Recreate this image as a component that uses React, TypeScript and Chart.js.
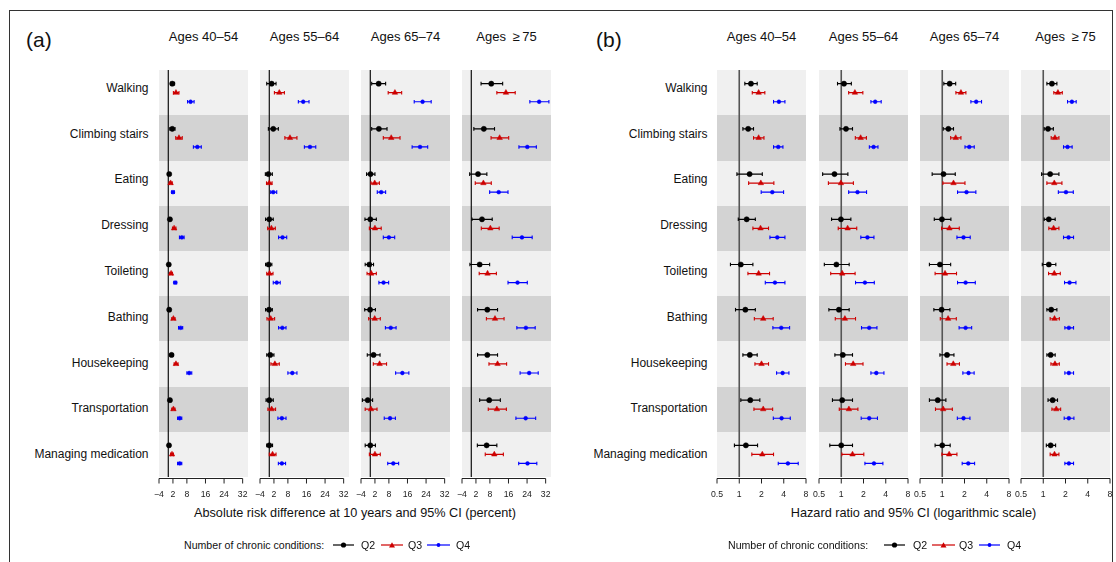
import React, { useEffect, useRef } from "react";
import { Chart, registerables } from "chart.js";
Chart.register(...registerables);

// ---------- data ----------
const activities = [
  "Walking",
  "Climbing stairs",
  "Eating",
  "Dressing",
  "Toileting",
  "Bathing",
  "Housekeeping",
  "Transportation",
  "Managing medication",
];
const ageGroups = ["Ages 40\u201354", "Ages 55\u201364", "Ages 65\u201374", "Ages\u2002\u2265\u200975"];
const seriesNames = ["Q2", "Q3", "Q4"];
const ardTicks = [-4, 2, 8, 16, 24, 32];
const hrTicks = [0.5, 1, 2, 4, 8];
const ardRange = [-4, 34.3];
const hrRange = [0.5, 8];
const ardTitle = "Absolute risk difference at 10 years and 95% CI (percent)";
const hrTitle = "Hazard ratio and 95% CI (logarithmic scale)";
const legendTitle = "Number of chronic conditions:";

// Absolute risk difference (percent): [estimate, lower, upper] per activity
const ard40Q2 = [[1.7, 1.0, 2.7], [1.7, 0.7, 2.9], [0.4, 0, 0.9], [0.7, 0.2, 1.3], [0.2, -0.2, 0.6], [0.4, 0, 0.9], [1.4, 0.8, 2.1], [0.7, 0.3, 1.2], [0.3, -0.1, 0.8]];
const ard40Q3 = [[3.3, 2.2, 4.6], [4.6, 3.2, 6.0], [1.0, 0.4, 1.7], [2.5, 1.8, 3.3], [1.2, 0.6, 1.8], [2.2, 1.5, 2.9], [3.3, 2.5, 4.2], [2.2, 1.5, 2.9], [1.6, 1.0, 2.2]];
const ard40Q4 = [[9.6, 8.3, 11.1], [12.5, 10.8, 14.2], [2.0, 1.4, 2.6], [5.8, 4.8, 6.8], [3.0, 2.4, 3.6], [5.3, 4.4, 6.2], [9.0, 8.0, 10.1], [4.9, 4.0, 5.8], [4.9, 4.0, 5.8]];

const ard55Q2 = [[1.0, -1.1, 2.9], [1.7, -0.4, 3.9], [-0.4, -1.7, 1.3], [0, -1.6, 1.7], [-0.3, -1.6, 1.1], [-0.1, -1.6, 1.3], [0.4, -1.1, 2.0], [0, -1.4, 1.7], [0, -1.1, 1.4]];
const ard55Q3 = [[4.3, 2.2, 6.5], [8.9, 6.7, 11.9], [0, -1.2, 1.2], [0.9, -0.7, 2.6], [0.1, -1.1, 1.6], [0.6, -1.0, 2.3], [2.4, 0.7, 4.3], [1.0, -0.6, 2.7], [1.4, 0, 2.9]];
const ard55Q4 = [[14.6, 12.5, 17.1], [17.5, 15.1, 20.0], [1.7, 0.6, 3.2], [5.7, 4.0, 7.5], [3.2, 1.7, 4.7], [5.6, 4.0, 7.2], [9.9, 8.0, 11.9], [5.4, 3.7, 7.2], [5.4, 3.9, 7.0]];

const ard65Q2 = [[3.6, 0.6, 6.6], [3.7, 0.6, 7.2], [0.1, -1.6, 2.0], [0, -2.3, 2.6], [-0.4, -2.2, 1.4], [-0.1, -2.4, 2.2], [1.4, -1.3, 4.2], [-1.1, -3.4, 1.0], [0, -2.2, 2.2]];
const ard65Q3 = [[10.6, 7.7, 13.5], [9.0, 5.6, 12.8], [1.9, 0.3, 3.9], [2.0, -0.4, 4.7], [0.4, -1.4, 2.6], [1.9, -0.7, 4.3], [4.0, 1.3, 7.0], [0.3, -2.2, 2.9], [2.0, -0.4, 4.3]];
const ard65Q4 = [[22.5, 18.9, 26.2], [21.4, 18.0, 24.7], [4.7, 3.0, 6.6], [8.0, 5.6, 10.5], [5.7, 3.7, 7.9], [8.8, 6.5, 11.1], [13.8, 10.9, 16.6], [8.5, 6.0, 10.8], [9.9, 7.5, 12.2]];

const ard75Q2 = [[8.6, 4.2, 13.5], [5.4, 1.1, 10.0], [2.9, -0.7, 6.7], [4.6, 0.3, 9.0], [3.6, -0.6, 7.9], [6.9, 2.7, 11.3], [6.9, 2.7, 11.3], [7.7, 3.6, 12.5], [6.6, 2.6, 11.0]];
const ard75Q3 = [[14.9, 11.0, 18.9], [12.2, 8.5, 16.1], [5.2, 1.7, 8.6], [8.2, 4.3, 12.0], [7.0, 3.4, 10.8], [10.2, 6.5, 14.1], [11.3, 7.6, 15.2], [11.0, 7.3, 15.1], [9.9, 6.0, 13.8]];
const ard75Q4 = [[29.2, 25.2, 33.4], [24.1, 20.5, 28.0], [11.8, 7.9, 15.8], [21.8, 17.6, 26.2], [19.9, 15.8, 24.1], [23.5, 19.6, 27.5], [24.9, 21.0, 28.8], [23.4, 19.2, 27.7], [24.2, 20.4, 28.2]];

// Hazard ratios: [estimate, lower, upper] per activity
const hr40Q2 = [[1.44, 1.19, 1.75], [1.32, 1.12, 1.56], [1.38, 0.93, 2.05], [1.26, 0.97, 1.65], [1.05, 0.76, 1.53], [1.21, 0.89, 1.65], [1.39, 1.12, 1.75], [1.41, 1.05, 1.90], [1.23, 0.86, 1.77]];
const hr40Q3 = [[1.83, 1.50, 2.22], [1.83, 1.56, 2.16], [1.96, 1.34, 2.94], [1.94, 1.53, 2.49], [1.83, 1.31, 2.57], [2.11, 1.60, 2.88], [2.0, 1.63, 2.49], [2.11, 1.58, 2.83], [2.05, 1.48, 2.91]];
const hr40Q4 = [[3.44, 2.91, 4.15], [3.37, 2.91, 3.90], [2.80, 1.98, 3.98], [3.27, 2.60, 4.15], [3.04, 2.25, 4.15], [3.70, 2.85, 4.80], [3.86, 3.20, 4.70], [3.74, 2.89, 4.90], [4.55, 3.37, 6.28]];

const hr55Q2 = [[1.09, 0.89, 1.37], [1.16, 0.96, 1.42], [0.81, 0.56, 1.23], [0.99, 0.74, 1.35], [0.86, 0.59, 1.28], [0.93, 0.68, 1.28], [1.05, 0.82, 1.42], [1.03, 0.76, 1.42], [1.0, 0.70, 1.42]];
const hr55Q3 = [[1.53, 1.26, 1.96], [1.83, 1.55, 2.19], [0.99, 0.67, 1.46], [1.22, 0.91, 1.62], [1.03, 0.72, 1.54], [1.12, 0.83, 1.56], [1.45, 1.14, 1.97], [1.27, 0.94, 1.68], [1.42, 1.02, 2.02]];
const hr55Q4 = [[2.88, 2.52, 3.47], [2.74, 2.40, 3.14], [1.66, 1.26, 2.20], [2.26, 1.84, 2.77], [2.09, 1.56, 2.80], [2.39, 1.88, 3.04], [2.98, 2.52, 3.78], [2.39, 1.86, 3.09], [2.77, 2.09, 3.66]];

const hr65Q2 = [[1.26, 1.05, 1.52], [1.21, 1.03, 1.42], [1.04, 0.73, 1.50], [0.99, 0.78, 1.31], [0.93, 0.67, 1.30], [0.98, 0.77, 1.27], [1.16, 0.93, 1.44], [0.87, 0.67, 1.12], [1.0, 0.80, 1.28]];
const hr65Q3 = [[1.79, 1.53, 2.09], [1.52, 1.30, 1.79], [1.42, 1.02, 2.03], [1.25, 0.98, 1.70], [1.09, 0.80, 1.56], [1.20, 0.94, 1.55], [1.41, 1.16, 1.71], [1.03, 0.81, 1.37], [1.24, 0.99, 1.58]];
const hr65Q4 = [[2.88, 2.44, 3.40], [2.32, 2.03, 2.71], [2.13, 1.61, 2.85], [1.94, 1.58, 2.39], [2.07, 1.61, 2.80], [2.07, 1.69, 2.50], [2.27, 1.90, 2.70], [1.94, 1.60, 2.37], [2.25, 1.86, 2.74]];

const hr75Q2 = [[1.31, 1.12, 1.53], [1.16, 1.03, 1.37], [1.24, 0.95, 1.63], [1.19, 1.03, 1.45], [1.19, 0.97, 1.48], [1.28, 1.12, 1.53], [1.26, 1.12, 1.45], [1.34, 1.16, 1.56], [1.26, 1.10, 1.47]];
const hr75Q3 = [[1.58, 1.39, 1.81], [1.44, 1.28, 1.63], [1.41, 1.12, 1.79], [1.38, 1.19, 1.63], [1.41, 1.18, 1.70], [1.42, 1.24, 1.65], [1.44, 1.27, 1.65], [1.50, 1.31, 1.72], [1.42, 1.24, 1.63]];
const hr75Q4 = [[2.44, 2.13, 2.79], [2.13, 1.88, 2.46], [2.03, 1.60, 2.55], [2.20, 1.88, 2.57], [2.27, 1.94, 2.77], [2.22, 1.96, 2.57], [2.22, 1.96, 2.57], [2.22, 1.92, 2.60], [2.22, 1.96, 2.57]];

const ardPanels = [
  [ard40Q2, ard40Q3, ard40Q4],
  [ard55Q2, ard55Q3, ard55Q4],
  [ard65Q2, ard65Q3, ard65Q4],
  [ard75Q2, ard75Q3, ard75Q4],
];
const hrPanels = [
  [hr40Q2, hr40Q3, hr40Q4],
  [hr55Q2, hr55Q3, hr55Q4],
  [hr65Q2, hr65Q3, hr65Q4],
  [hr75Q2, hr75Q3, hr75Q4],
];

// ---------- style / layout ----------
const FONT = '"Liberation Sans", Arial, Helvetica, sans-serif';
const COLORS = ["#000000", "#cd0000", "#0000ff"];
const MARKERS = ["circle", "triangle", "circle"];
const MARKER_R = [2.6, 3.2, 1.9];
const OFFSETS = [-0.2, 0, 0.2];
const BAND_LIGHT = "#f0f0f0";
const BAND_DARK = "#d3d3d3";
const ROW_TOP = 65;
const PLOT_H = 412;
const ROW_H = PLOT_H / 9;
const PANEL_W = 89;
const PAD_X = 14;
const AXIS_H = 26;
const aLefts = [159, 260, 361, 462];
const bLefts = [717, 819, 920, 1021];

const bandPlugin = {
  id: "bands",
  beforeDatasetsDraw(chart: any) {
    const { ctx, chartArea } = chart;
    const y = chart.scales.y;
    ctx.save();
    activities.forEach((_, i) => {
      const y0 = Math.round(y.getPixelForValue(i));
      const y1 = Math.round(y.getPixelForValue(i + 1));
      ctx.fillStyle = i % 2 ? BAND_DARK : BAND_LIGHT;
      ctx.fillRect(chartArea.left, Math.min(y0, y1), chartArea.right - chartArea.left, Math.abs(y1 - y0));
    });
    ctx.restore();
  },
};

const axisPlugin = {
  id: "rAxis",
  afterDraw(chart: any) {
    const x = chart.scales.x;
    const ctx = chart.ctx;
    const base = chart.chartArea.bottom + 1.5;
    const px = x.ticks.map((t: any) => x.getPixelForValue(t.value));
    ctx.save();
    ctx.strokeStyle = "#222";
    ctx.lineWidth = 1;
    ctx.beginPath();
    ctx.moveTo(px[0], base);
    ctx.lineTo(px[px.length - 1], base);
    px.forEach((p: number) => {
      ctx.moveTo(p, base);
      ctx.lineTo(p, base + 5);
    });
    ctx.stroke();
    ctx.restore();
  },
};

function ForestPanel({ left, series, kind }: { left: number; series: number[][][]; kind: "ard" | "hr" }) {
  const ref = useRef<HTMLCanvasElement>(null);
  useEffect(() => {
    const isLog = kind === "hr";
    const refValue = isLog ? 1 : 0;
    const ticks = isLog ? hrTicks : ardTicks;
    const range = isLog ? hrRange : ardRange;
    const datasets: any[] = [];
    series.forEach((rows, s) => {
      datasets.push({
        type: "scatter",
        label: seriesNames[s],
        data: rows.map((r, i) => ({ x: r[0], y: i + 0.5 + OFFSETS[s] })),
        pointStyle: MARKERS[s],
        pointRadius: MARKER_R[s],
        backgroundColor: COLORS[s],
        borderColor: COLORS[s],
        borderWidth: 0.5,
        showLine: false,
      });
    });
    series.forEach((rows, s) => {
      const pts: any[] = [];
      rows.forEach((r, i) => {
        const y = i + 0.5 + OFFSETS[s];
        pts.push({ x: r[1], y }, { x: r[2], y }, { x: r[2], y: null });
      });
      datasets.push({
        type: "line",
        label: seriesNames[s] + " CI",
        data: pts,
        borderColor: COLORS[s],
        borderWidth: 1.2,
        spanGaps: false,
        fill: false,
        tension: 0,
        pointStyle: "line",
        pointRotation: 90,
        pointRadius: 1.8,
        pointBorderColor: COLORS[s],
        pointBorderWidth: 1.1,
      });
    });
    datasets.push({
      type: "line",
      label: "reference",
      data: [
        { x: refValue, y: 0 },
        { x: refValue, y: activities.length },
      ],
      borderColor: isLog ? "#555" : "#111",
      borderWidth: isLog ? 1.6 : 1.2,
      pointRadius: 0,
    });

    const chart = new Chart(ref.current as HTMLCanvasElement, {
      type: "scatter",
      data: { datasets },
      options: {
        animation: false,
        responsive: false,
        maintainAspectRatio: false,
        events: [],
        layout: { padding: { left: PAD_X, right: PAD_X, top: 0, bottom: 0 } },
        plugins: { legend: { display: false }, tooltip: { enabled: false } },
        scales: {
          x: {
            type: isLog ? "logarithmic" : "linear",
            min: range[0],
            max: range[1],
            bounds: "data",
            afterBuildTicks: (sc: any) => {
              sc.ticks = ticks.map((v) => ({ value: v }));
            },
            afterFit: (sc: any) => {
              sc.height = AXIS_H;
            },
            ticks: {
              autoSkip: false,
              maxRotation: 0,
              minRotation: 0,
              padding: 5,
              color: "#222",
              font: { family: FONT, size: 8.7 },
              callback: (v: any) => (v < 0 ? "\u2212" + Math.abs(v) : String(v)),
            },
            grid: { display: true, drawOnChartArea: false, drawTicks: true, tickLength: 7, color: "rgba(0,0,0,0)" },
            border: { display: false },
          },
          y: { type: "linear", min: 0, max: activities.length, reverse: true, display: false },
        },
      } as any,
      plugins: [bandPlugin, axisPlugin],
    } as any);
    return () => chart.destroy();
  }, []);
  const w = PANEL_W + 2 * PAD_X;
  const h = PLOT_H + AXIS_H;
  return (
    <canvas
      ref={ref}
      width={w}
      height={h}
      style={{ position: "absolute", left: left - PAD_X, top: ROW_TOP, width: w, height: h }}
    />
  );
}

function Txt({ x, y, children, size, align = "center" }: any) {
  const W = 600;
  const leftPos = align === "center" ? x - W / 2 : align === "right" ? x - W : x;
  return (
    <div
      style={{
        position: "absolute",
        left: leftPos,
        top: y - 10,
        width: W,
        height: 20,
        lineHeight: "20px",
        fontSize: size,
        fontFamily: FONT,
        textAlign: align,
        color: "#111",
        whiteSpace: "pre",
      }}
    >
      {children}
    </div>
  );
}

function LegendSample({ x, w, s }: { x: number; w: number; s: number }) {
  const c = COLORS[s];
  const cx = w / 2;
  return (
    <svg style={{ position: "absolute", left: x, top: 540 }} width={w} height={10}>
      <line x1={0} y1={5} x2={w} y2={5} stroke={c} strokeWidth={1.2} />
      {s === 1 ? (
        <polygon points={`${cx - 3},7.4 ${cx + 3},7.4 ${cx},2.2`} fill={c} />
      ) : (
        <circle cx={cx} cy={5} r={s === 0 ? 2.6 : 1.9} fill={c} />
      )}
    </svg>
  );
}

function Legend({ textX, samples, labels }: { textX: number; samples: number[][]; labels: number[] }) {
  return (
    <>
      <Txt x={textX} y={545} size={10.6} align="left">
        {legendTitle}
      </Txt>
      {samples.map((sm, s) => (
        <React.Fragment key={s}>
          <LegendSample x={sm[0]} w={sm[1] - sm[0]} s={s} />
          <Txt x={labels[s]} y={545} size={10.6} align="left">
            {seriesNames[s]}
          </Txt>
        </React.Fragment>
      ))}
    </>
  );
}

export default function App() {
  const rowCenter = (i: number) => ROW_TOP + (i + 0.5) * ROW_H;
  return (
    <div style={{ position: "absolute", left: 0, top: 0, width: 1116, height: 562, background: "#fff", overflow: "hidden" }}>
      <div
        style={{
          position: "absolute",
          left: 9,
          top: 10,
          width: 1104,
          height: 600,
          border: "1.5px solid #333",
          boxSizing: "border-box",
        }}
      />
      <Txt x={26} y={40} size={21} align="left">(a)</Txt>
      <Txt x={596} y={40} size={21} align="left">(b)</Txt>

      {ageGroups.map((g, k) => (
        <React.Fragment key={g}>
          <Txt x={aLefts[k] + PANEL_W / 2} y={37} size={13}>{g}</Txt>
          <Txt x={bLefts[k] + PANEL_W / 2} y={37} size={13}>{g}</Txt>
        </React.Fragment>
      ))}

      {activities.map((a, i) => (
        <React.Fragment key={a}>
          <Txt x={148.5} y={rowCenter(i)} size={12} align="right">{a}</Txt>
          <Txt x={707.5} y={rowCenter(i)} size={12} align="right">{a}</Txt>
        </React.Fragment>
      ))}

      {ardPanels.map((p, k) => (
        <ForestPanel key={"a" + k} left={aLefts[k]} series={p} kind="ard" />
      ))}
      {hrPanels.map((p, k) => (
        <ForestPanel key={"b" + k} left={bLefts[k]} series={p} kind="hr" />
      ))}

      <Txt x={(aLefts[0] + aLefts[3] + PANEL_W) / 2} y={513} size={12.7}>{ardTitle}</Txt>
      <Txt x={(bLefts[0] + bLefts[3] + PANEL_W) / 2} y={513} size={12.7}>{hrTitle}</Txt>

      <Legend textX={184} samples={[[333, 354], [381, 403], [427, 450]]} labels={[361, 408, 456]} />
      <Legend textX={728} samples={[[884, 905], [932, 955], [979, 1000]]} labels={[913, 959, 1007]} />
    </div>
  );
}
